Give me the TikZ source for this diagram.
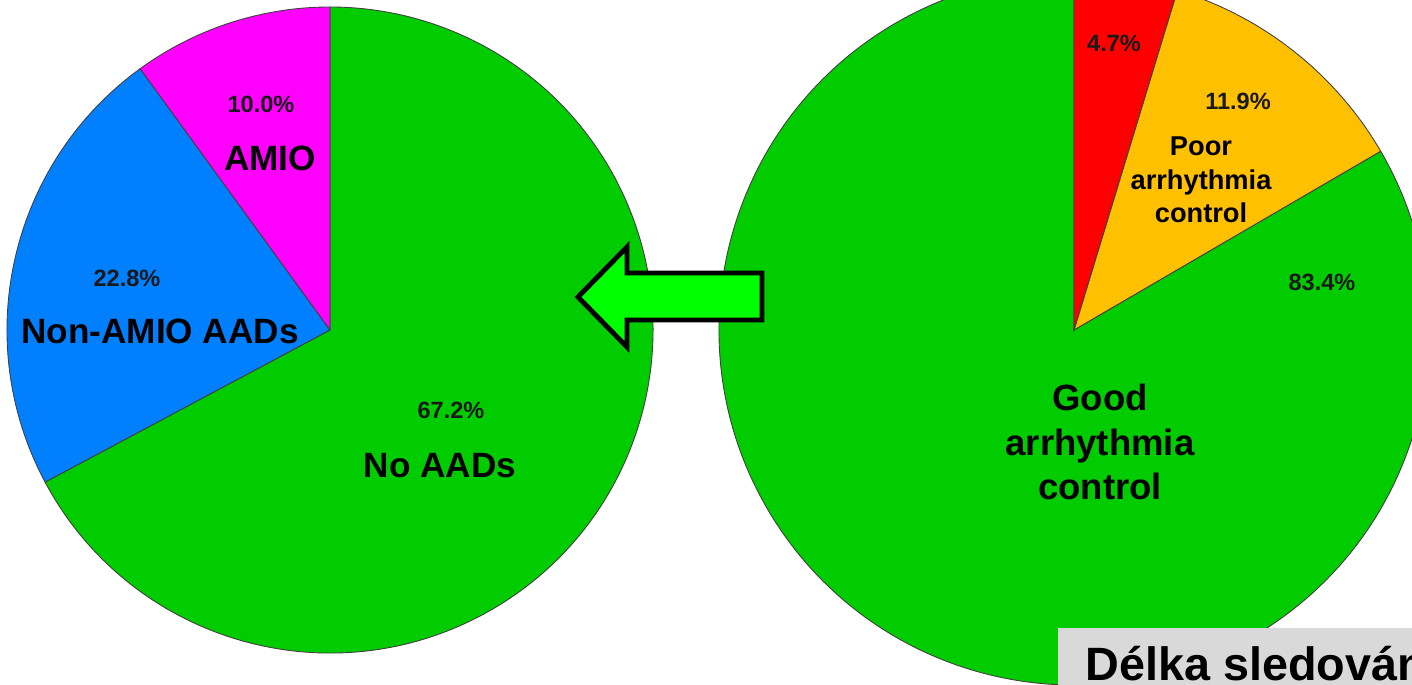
\documentclass[tikz,border=0pt]{standalone}
\usepackage{fontspec}
\setmainfont{Liberation Sans}
\definecolor{pieGreen}{HTML}{00CC00}
\definecolor{pieBlue}{HTML}{0080FF}
\definecolor{pieMagenta}{HTML}{FF00FF}
\definecolor{pieRed}{HTML}{FF0000}
\definecolor{pieYellow}{HTML}{FFC000}
\definecolor{arrowGreen}{HTML}{00FF00}
\definecolor{boxGray}{HTML}{D9D9D9}
\tikzset{
  slice/.style={draw=black!75,line width=0.5pt},
  pct/.style={font=\fontsize{13.4}{16}\bfseries,text=black!90,inner sep=0},
  lbl/.style={font=\fontsize{20}{25}\bfseries,inner sep=0,align=center},
}
\begin{document}
\begin{tikzpicture}
\useasboundingbox (0,0) rectangle (28.24,13.68);
\clip (0,0) rectangle (28.24,13.68);

\coordinate (LC) at (6.6,7.08);
\coordinate (RC) at (21.48,7.08);

% left pie
\filldraw[slice,fill=pieGreen] (LC) -- ++(208.1:6.46) arc[start angle=208.1,end angle=450,radius=6.46] -- cycle;
\filldraw[slice,fill=pieBlue] (LC) -- ++(126:6.46) arc[start angle=126,end angle=208.1,radius=6.46] -- cycle;
\filldraw[slice,fill=pieMagenta] (LC) -- ++(90:6.46) arc[start angle=90,end angle=126,radius=6.46] -- cycle;

% right pie
\filldraw[slice,fill=pieGreen] (RC) -- ++(30.24:7.1) arc[start angle=30.24,end angle=-270,radius=7.1] -- cycle;
\filldraw[slice,fill=pieYellow] (RC) -- ++(73.08:7.1) arc[start angle=73.08,end angle=30.24,radius=7.1] -- cycle;
\filldraw[slice,fill=pieRed] (RC) -- ++(90:7.1) arc[start angle=90,end angle=73.08,radius=7.1] -- cycle;

\node[pct] (amioPct) at (5.22,11.6) {10.0\%};
\node[lbl] (amio) at (5.4,10.52) {AMIO};
\node[pct] (nonPct) at (2.54,8.12) {22.8\%};
\node[lbl] (non) at (3.2,7.06) {Non-AMIO AADs};
\node[pct] (noPct) at (9.02,5.48) {67.2\%};
\node[lbl] (no) at (8.8,4.36) {No AADs};

\node[pct] (redPct) at (22.28,12.82) {4.7\%};
\node[pct] (poorPct) at (24.76,11.66) {11.9\%};
\node[lbl,font=\fontsize{15.5}{19}\bfseries] (poor) at (24.02,10.08) {Poor\\arrhythmia\\control};
\node[pct] (goodPct) at (26.44,8.04) {83.4\%};
\node[lbl,font=\fontsize{20.8}{25.5}\bfseries] (good) at (22.0,4.84) {Good\\arrhythmia\\control};

% arrow between the pies
\filldraw[fill=arrowGreen,draw=black,line width=2.8pt,line join=miter]
  (11.56,7.74) -- (12.54,8.74) -- (12.54,8.22) -- (15.24,8.22)
  -- (15.24,7.28) -- (12.54,7.28) -- (12.54,6.74) -- cycle;

% follow-up box
\fill[boxGray] (21.16,1.12) rectangle (29,-1);
\node[anchor=base west,inner sep=0,font=\fontsize{26.6}{31}\bfseries] (delka) at (21.7,0.07) {Délka sledování};
\end{tikzpicture}
\end{document}
